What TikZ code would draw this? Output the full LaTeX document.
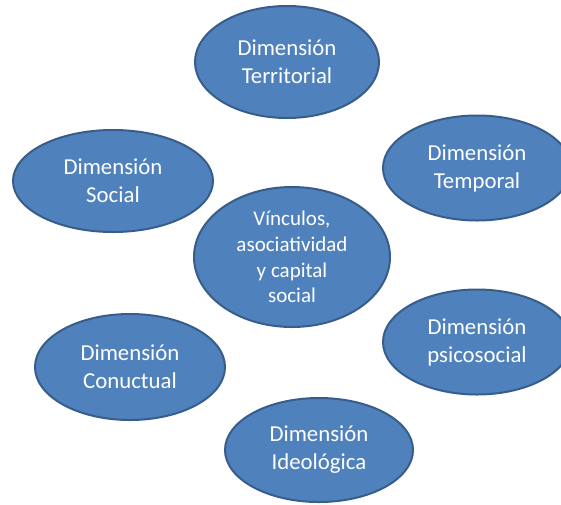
\documentclass[tikz,border=0pt]{standalone}
\usepackage{fontspec}
\setmainfont{Carlito}
\usetikzlibrary{shapes.geometric}
\definecolor{ovalfill}{HTML}{4F81BD}
\definecolor{ovalline}{HTML}{385D8A}
\tikzset{
  oval/.style={ellipse, draw=ovalline, fill=ovalfill, line width=2pt,
    inner sep=0pt, text=white, align=center,
    font=\fontsize{22.8}{28}\selectfont},
  bigoval/.style={oval, font=\fontsize{21}{25.7}\selectfont}
}
\begin{document}
\begin{tikzpicture}[x=1pt,y=-1pt]
\clip (0,0) rectangle (561,504);
\fill[white] (0,0) rectangle (561,504);
\node[oval, minimum width=184pt, minimum height=112pt] (terr) at (287,62) {Dimensión\\Territorial};
\node[oval, minimum width=200pt, minimum height=102pt] (soc) at (113,181) {Dimensión\\Social};
\node[oval, minimum width=188pt, minimum height=105pt] (temp) at (477,168) {Dimensión\\Temporal};
\node[bigoval, minimum width=196pt, minimum height=140pt] (vinc) at (292,257) {Vínculos,\\asociatividad\\y capital\\social};
\node[oval, minimum width=188pt, minimum height=105pt] (psico) at (477,342) {Dimensión\\psicosocial};
\node[oval, minimum width=190pt, minimum height=106pt] (conu) at (130,367) {Dimensión\\Conuctual};
\node[oval, minimum width=188pt, minimum height=104pt] (ideo) at (319,450) {Dimensión\\Ideológica};
\end{tikzpicture}
\end{document}
